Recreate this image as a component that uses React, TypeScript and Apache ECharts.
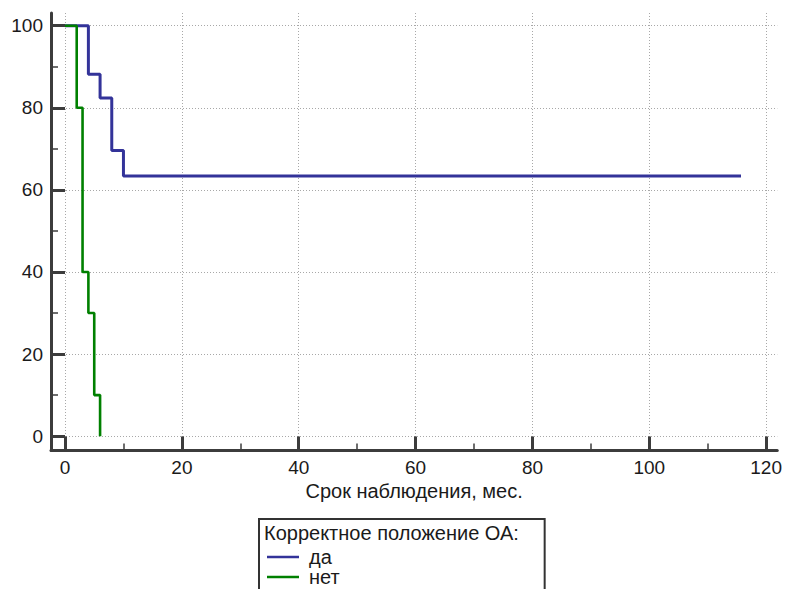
import React, { useEffect, useRef } from "react";
import * as echarts from "echarts";

const seriesNames = ["да", "нет"];
// Kaplan–Meier steps: [month, survival %]
const yesData: [number, number][] = [
  [0, 100],
  [4, 88.2],
  [6, 82.4],
  [8, 69.6],
  [10, 63.4],
  [115.7, 63.4],
];
const noData: [number, number][] = [
  [0, 100],
  [2, 80],
  [3, 40],
  [4, 30],
  [5, 10],
  [6, 0],
];
const xMajorTicks = [0, 20, 40, 60, 80, 100, 120];
const yMajorTicks = [0, 20, 40, 60, 80, 100];
const xAxisTitle = "Срок наблюдения, мес.";
const legendTitle = "Корректное положение ОА:";
const colors = ["#333399", "#008000"];

const FONT = "'Liberation Sans', Arial, sans-serif";
const AXIS_COLOR = "#3c3c3c";

export default function App() {
  const ref = useRef<HTMLDivElement>(null);
  useEffect(() => {
    if (!ref.current) return;
    const chart = echarts.init(ref.current, undefined, { renderer: "svg" });
    const xMin = -2.4;
    const xMax = 121.9;
    const yMin = -3.5;
    const yMax = 103.1;
    const labelStyle = { fontSize: 19, color: "#1a1a1a", fontFamily: FONT };
    const textStyle20 = { fontSize: 20, color: "#1a1a1a", fontFamily: FONT };
    const minorTick = { show: true, splitNumber: 2, length: 7, lineStyle: { color: AXIS_COLOR, width: 1.5 } };
    chart.setOption({
      animation: false,
      backgroundColor: "#ffffff",
      textStyle: { fontFamily: FONT },
      title: {
        text: legendTitle,
        left: 264,
        top: 523,
        padding: 0,
        textStyle: { ...textStyle20, fontWeight: "normal" },
      },
      legend: {
        data: seriesNames,
        orient: "vertical",
        left: 259,
        top: 519,
        width: 80,
        height: 60,
        padding: [28, 205, 24, 8],
        icon: "rect",
        itemWidth: 32,
        itemHeight: 2.5,
        itemGap: 0,
        borderColor: "#333333",
        borderWidth: 2,
        textStyle: { ...textStyle20, lineHeight: 20, padding: [0, 0, 0, 5] },
      },
      grid: { left: 51, right: 7, top: 13, bottom: 138.5, containLabel: false },
      xAxis: {
        type: "value",
        position: "bottom",
        min: xMin,
        max: xMax,
        splitNumber: 6,
        name: xAxisTitle,
        nameLocation: "middle",
        nameGap: 30.5,
        nameTextStyle: textStyle20,
        axisLine: { show: true, onZero: false, lineStyle: { color: AXIS_COLOR, width: 3 } },
        axisTick: { show: true, inside: true, length: 14, customValues: xMajorTicks, lineStyle: { color: AXIS_COLOR, width: 3 } },
        minorTick,
        axisLabel: { show: true, customValues: xMajorTicks, margin: 7, ...labelStyle },
        splitLine: { show: true, lineStyle: { color: "#a8a8a8", type: [1, 2], width: 1 } },
      },
      yAxis: {
        type: "value",
        position: "left",
        min: yMin,
        max: yMax,
        splitNumber: 5,
        axisLine: { show: true, onZero: false, lineStyle: { color: AXIS_COLOR, width: 3 } },
        axisTick: { show: true, inside: true, length: 14, customValues: yMajorTicks, lineStyle: { color: AXIS_COLOR, width: 3 } },
        minorTick,
        axisLabel: { show: true, customValues: yMajorTicks, margin: 8, ...labelStyle },
        splitLine: { show: true, lineStyle: { color: "#a8a8a8", type: [1, 2], width: 1 } },
      },
      series: [
        {
          name: seriesNames[0],
          type: "line",
          step: "end",
          data: yesData,
          symbol: "none",
          color: colors[0],
          lineStyle: { color: colors[0], width: 3 },
        },
        {
          name: seriesNames[1],
          type: "line",
          step: "end",
          data: noData,
          symbol: "none",
          color: colors[1],
          lineStyle: { color: colors[1], width: 2.6 },
        },
      ],
    });
    return () => chart.dispose();
  }, []);
  return (
    <div
      ref={ref}
      style={{ position: "fixed", left: 0, top: 0, width: 785, height: 589 }}
    />
  );
}
